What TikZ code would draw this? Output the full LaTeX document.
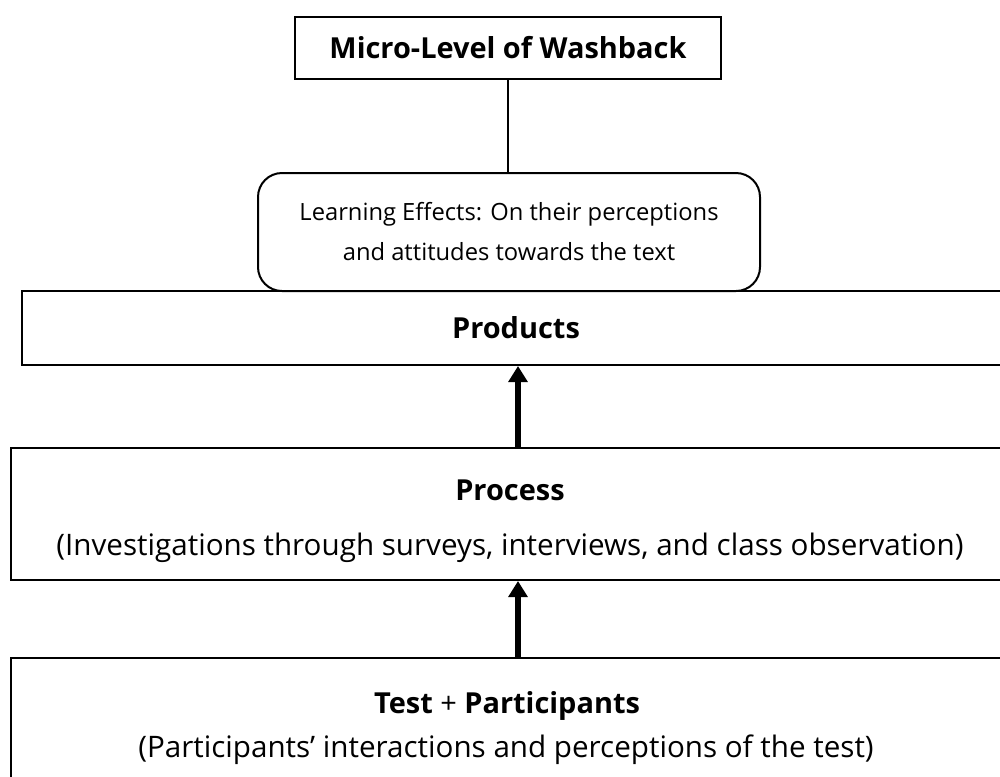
\documentclass[tikz,border=0pt]{standalone}
\usepackage{fontspec}
\setmainfont{Open Sans}
\usetikzlibrary{arrows.meta,calc}
\begin{document}
\begin{tikzpicture}[x=0.75pt,y=-0.75pt,
  box/.style={draw,line width=1.5pt,inner sep=0pt,anchor=center},
  conn/.style={line width=0.8pt},
  titlefont/.style={font=\bfseries\fontsize{21.7}{26}\selectfont},
  subfont/.style={font=\fontsize{22.2}{26}\selectfont},
  bigarrow/.style={line width=3.8pt,-{Triangle[width=14pt,length=12pt]}}]
\clip (0,0) rectangle (1000,776);
\fill[white] (0,0) rectangle (1000,776);
\node[box,minimum width=319.5pt,minimum height=46.5pt,titlefont] (top) at (508,48) {Micro-Level of Washback};
\node[box,rounded corners=18pt,minimum width=376.5pt,minimum height=88.5pt,align=center,font=\fontsize{17.8}{30}\selectfont] (learn) at (509,232) {Learning Effects: On their perceptions\\and attitudes towards the text};
\node[box,minimum width=741pt,minimum height=55.5pt,titlefont] (prod) at (516,328) {Products};
\node[box,minimum width=749pt,minimum height=99pt] (proc) at (510.5,514) {};
\node[titlefont] (proct) at (510,490) {Process};
\node[subfont] (procs) at (510,548) {(Investigations through surveys, interviews, and class observation)};
\node[box,minimum width=750pt,minimum height=100pt] (test) at (511,725) {};
\node[titlefont] (testt) at (507,706) {Test {\mdseries+} Participants};
\node[subfont] (tests) at (506,750) {(Participants’ interactions and perceptions of the test)};
\draw[conn] (top.south) -- (learn.north -| top.south);
\coordinate (ax) at (518,0);
\draw[bigarrow] (proc.north -| ax) -- (prod.south -| ax);
\draw[bigarrow] (test.north -| ax) -- (proc.south -| ax);
\end{tikzpicture}
\end{document}
